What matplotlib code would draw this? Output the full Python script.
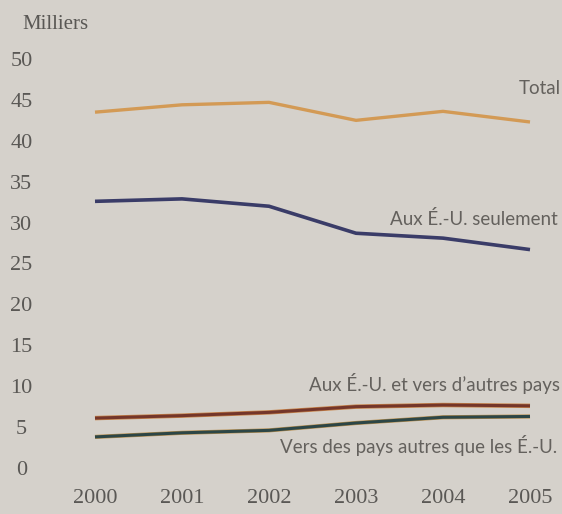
import matplotlib.pyplot as plt

annees = [2000, 2001, 2002, 2003, 2004, 2005]
total = [43.5, 44.4, 44.7, 42.5, 43.6, 42.3]
eu_seulement = [32.6, 32.9, 32.0, 28.7, 28.1, 26.7]
eu_et_autres = [6.1, 6.4, 6.8, 7.5, 7.7, 7.6]
autres_que_eu = [3.8, 4.3, 4.6, 5.5, 6.2, 6.3]
y_ticks = [0, 5, 10, 15, 20, 25, 30, 35, 40, 45, 50]

fond = '#d5d1cb'
gris = '#5a5855'
gris_clair = '#64615d'
serif = 'Liberation Serif'
police = 'Lato'

fig = plt.figure(figsize=(5.62, 5.14), dpi=100, facecolor=fond)
ax = fig.add_axes([95 / 562, 1 - 468 / 514, 435 / 562, 409 / 514])
ax.set_facecolor(fond)

ax.plot(annees, total, color='#d39a55', lw=2.4, clip_on=False, solid_capstyle='butt')
ax.plot(annees, eu_seulement, color='#3a3c68', lw=2.6, clip_on=False, solid_capstyle='butt')
# lignes foncées avec un léger liseré orangé
ax.plot(annees, eu_et_autres, color='#c8844a', lw=3.2, clip_on=False, solid_capstyle='butt')
ax.plot(annees, eu_et_autres, color='#74362a', lw=2.2, clip_on=False, solid_capstyle='butt')
ax.plot(annees, autres_que_eu, color='#b99050', lw=3.0, clip_on=False, solid_capstyle='butt')
ax.plot(annees, autres_que_eu, color='#2c4646', lw=2.2, clip_on=False, solid_capstyle='butt')

ax.set_xlim(2000, 2005)
ax.set_ylim(0, 50)
for s in ax.spines.values():
    s.set_visible(False)

ax.set_yticks(y_ticks)
ax.set_yticklabels([str(v) for v in y_ticks], fontfamily=serif, fontsize=16, color=gris)
for lab in ax.get_yticklabels():
    lab.set_horizontalalignment('center')
ax.set_xticks(annees)
ax.set_xticklabels([str(a) for a in annees], fontfamily=serif, fontsize=16, color=gris)
ax.tick_params(axis='y', length=0, pad=53)
ax.tick_params(axis='x', length=0, pad=15)

ax.text(1.07, (468 - 88) / 409, 'Total', transform=ax.transAxes,
        ha='right', va='center', fontsize=13.5, color=gris_clair, family=police)
ax.text(1.0642, (468 - 219) / 409, 'Aux É.-U. seulement', transform=ax.transAxes,
        ha='right', va='center', fontsize=13.5, color=gris_clair, family=police)
ax.text(1.0688, (468 - 383) / 409, 'Aux É.-U. et vers d\u2019autres pays', transform=ax.transAxes,
        ha='right', va='center', fontsize=13.5, color=gris_clair, family=police)
ax.text(1.0620, (468 - 446) / 409, 'Vers des pays autres que les É.-U.', transform=ax.transAxes,
        ha='right', va='center', fontsize=13.5, color=gris_clair, family=police)

fig.text(22 / 562, 1 - 24 / 514, 'Milliers', ha='left', va='center', fontsize=15,
         color=gris, family=serif)

fig.savefig('out.png', dpi=100, facecolor=fond)
